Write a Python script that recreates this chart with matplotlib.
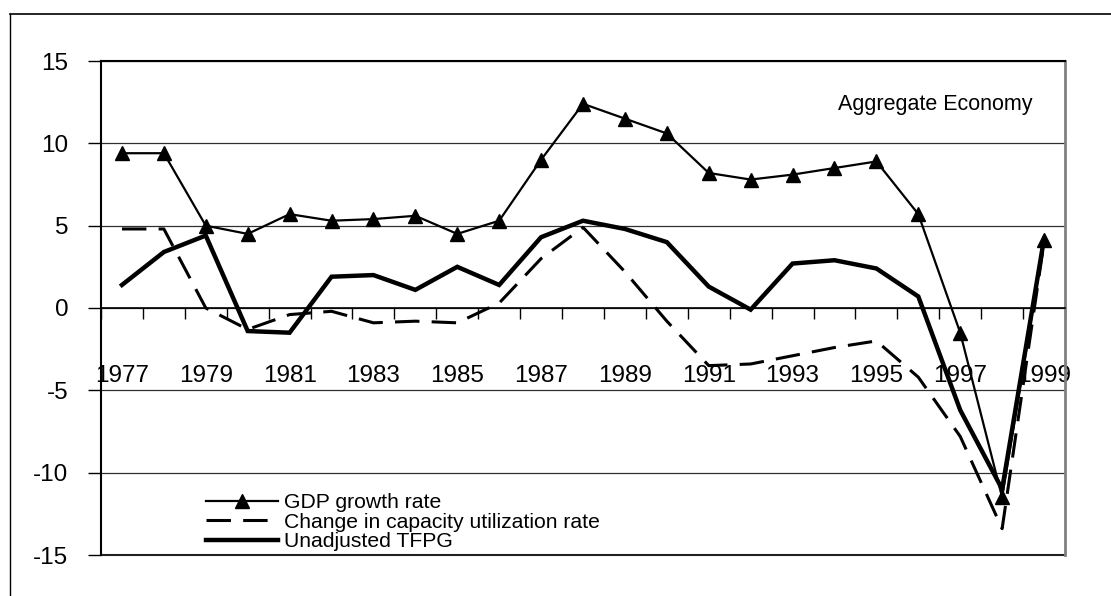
import matplotlib
matplotlib.use("Agg")
import matplotlib.pyplot as plt
from matplotlib.lines import Line2D

plt.rcParams['font.family'] = ['Liberation Sans', 'DejaVu Sans']
plt.rcParams['axes.unicode_minus'] = False

# annual series, 1977-1999
years = list(range(1977, 2000))
gdp_growth = [9.4, 9.4, 5.0, 4.5, 5.7, 5.3, 5.4, 5.6, 4.5, 5.3, 9.0, 12.4,
              11.5, 10.6, 8.2, 7.8, 8.1, 8.5, 8.9, 5.7, -1.5, -11.5, 4.1]
capacity_change = [4.8, 4.8, 0.0, -1.3, -0.4, -0.2, -0.9, -0.8, -0.9, 0.3, 3.0, 4.9,
                   2.2, -0.8, -3.5, -3.4, -2.9, -2.4, -2.0, -4.2, -7.8, -13.4, 4.0]
tfpg = [1.4, 3.4, 4.4, -1.4, -1.5, 1.9, 2.0, 1.1, 2.5, 1.4, 4.3, 5.3,
        4.8, 4.0, 1.3, -0.1, 2.7, 2.9, 2.4, 0.7, -6.2, -11.0, 4.2]
y_ticks = [-15, -10, -5, 0, 5, 10, 15]

fig = plt.figure(figsize=(11.11, 5.96), dpi=100)
ax = fig.add_axes([101 / 1111, 41 / 596, 964 / 1111, 494 / 596])

x = list(range(len(years)))
ax.plot(x, gdp_growth, color='black', lw=1.6, marker='^', markersize=10,
        label='GDP growth rate', zorder=4)
ax.plot(x, capacity_change, color='black', lw=2.2, dashes=(8, 4),
        label='Change in capacity utilization rate', zorder=3)
ax.plot(x, tfpg, color='black', lw=3.2, solid_joinstyle='miter',
        label='Unadjusted TFPG', zorder=3)

ax.set_xlim(-0.5, len(years) - 0.5)
ax.set_ylim(-15, 15)

# horizontal grid
ax.set_yticks(y_ticks)
ax.yaxis.grid(True, color='#303030', lw=0.9)
ax.set_axisbelow(True)
ax.tick_params(axis='y', direction='out', length=9.5, width=1, pad=14,
               labelsize=17.5, color='black')

# category axis crosses at zero
ax.spines['bottom'].set_position(('data', 0))
ax.spines['bottom'].set_linewidth(1.2)
ax.set_xticks(x[::2])
ax.set_xticklabels([str(y) for y in years[::2]])
ax.set_xticks([i - 0.5 for i in range(len(years) + 1)], minor=True)
ax.tick_params(axis='x', which='major', length=0, pad=41, labelsize=17.5)
ax.tick_params(axis='x', which='minor', direction='out', length=8, width=1,
               color='black')

ax.spines['top'].set_linewidth(1.5)
ax.spines['left'].set_linewidth(1.5)
ax.spines['right'].set_color('#808080')
ax.spines['right'].set_linewidth(2)
ax.axhline(-15, color='#202020', lw=1.5, clip_on=False, zorder=2)

ax.text(0.9665, 0.911, 'Aggregate Economy', transform=ax.transAxes,
        ha='right', va='center', fontsize=15.5)

leg = ax.legend(loc='upper left', bbox_to_anchor=(0.109, 0.125), frameon=False,
                fontsize=15.2, handlelength=3.4, handletextpad=0.3,
                labelspacing=0.02, borderpad=0, borderaxespad=0, numpoints=1)

# outer chart border
fig.add_artist(Line2D([9.5 / 1111, 9.5 / 1111], [-0.01, 1 - 14 / 596],
                      color='black', lw=1))
fig.add_artist(Line2D([9.5 / 1111, 1.01], [1 - 14 / 596, 1 - 14 / 596],
                      color='black', lw=1.2))

fig.savefig('out.png', dpi=100, facecolor='white')
